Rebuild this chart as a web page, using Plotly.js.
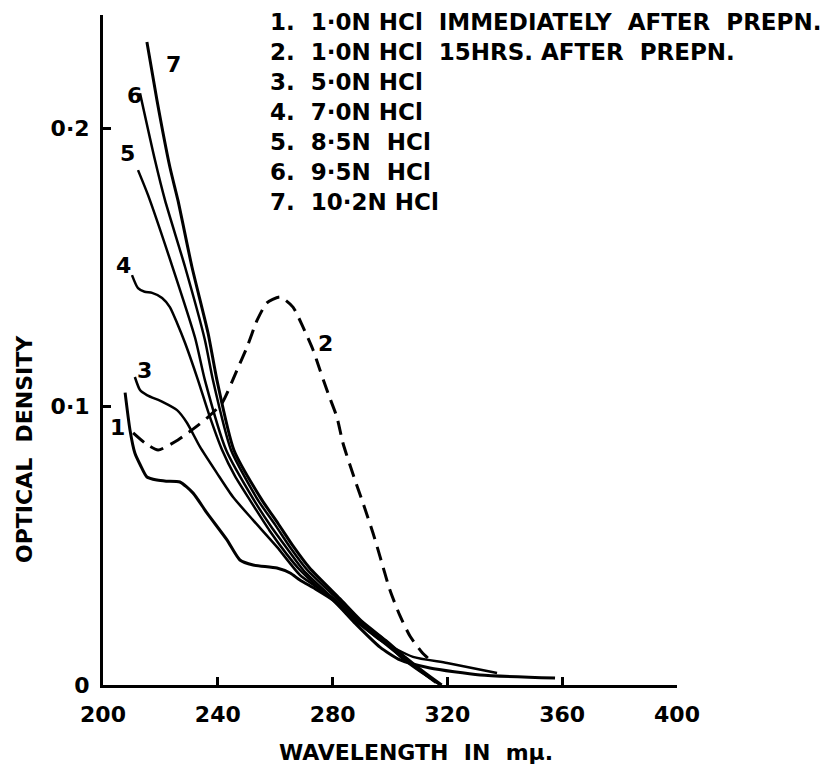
<!DOCTYPE html>
<html><head><meta charset="utf-8">
<script src="https://cdn.plot.ly/plotly-3.0.1.min.js"></script>
<style>html,body{margin:0;padding:0;background:#fff}</style>
</head><body>
<div id="chart" style="width:826px;height:772px"></div>
<script>
// Curve 1: 1.0N HCl immediately after prepn.
const c1x = [207.7, 209.4, 211.1, 213, 215.3, 218.8, 222, 226.8, 231.4, 236.2, 243.2, 247.7, 252.3, 260.6, 265.2, 268.6, 274, 280.1, 288, 296.5, 303.5, 313.9, 331.4, 357.5];
const c1y = [0.105, 0.0916, 0.0833, 0.079, 0.0747, 0.0736, 0.0732, 0.0729, 0.0689, 0.0618, 0.0521, 0.0449, 0.0431, 0.042, 0.0402, 0.0377, 0.0345, 0.0305, 0.022, 0.0136, 0.009, 0.0061, 0.0036, 0.0025];
// Curve 2: 1.0N HCl 15 hrs after prepn. (dashed)
const c2x = [210.5, 214.6, 219.2, 226.1, 231.0, 236.6, 241.5, 246.7, 250.2, 253.7, 257.1, 261.7, 266.2, 269.7, 273.2, 275.6, 278.4, 281.5, 283.6, 287.5, 291.3, 294.1, 296.5, 300.0, 303.5, 307.0, 311.1, 313.9];
const c2y = [0.0905, 0.0869, 0.0844, 0.088, 0.0916, 0.0962, 0.1013, 0.1131, 0.1214, 0.131, 0.1372, 0.1393, 0.1357, 0.1285, 0.1203, 0.1131, 0.1048, 0.0962, 0.0869, 0.0745, 0.0632, 0.0545, 0.0462, 0.034, 0.0248, 0.0175, 0.0118, 0.009];
// Curve 3: 5.0N HCl
const c3x = [211.1, 212.9, 215.3, 220.9, 225.8, 229.3, 233.8, 239.7, 245.3, 252.3, 260.6, 268.6, 274, 280.5, 288, 296.5, 308.0, 319.9, 337.3];
const c3y = [0.1106, 0.1059, 0.1041, 0.1016, 0.0987, 0.0941, 0.0855, 0.0761, 0.0675, 0.0592, 0.0496, 0.0395, 0.0355, 0.031, 0.0235, 0.0162, 0.0101, 0.0079, 0.0043];
// Curve 4: 7.0N HCl
const c4x = [210.1, 212.2, 214.5, 217.1, 220.6, 223.3, 225.8, 228.6, 233.1, 237, 241.5, 246, 251.2, 258, 264, 268.6, 274, 280.1, 288, 296.5, 303.5, 310.5, 316];
const c4y = [0.1472, 0.1425, 0.1412, 0.1408, 0.139, 0.1357, 0.13, 0.1228, 0.1095, 0.097, 0.0844, 0.075, 0.0664, 0.0555, 0.047, 0.0413, 0.036, 0.0305, 0.023, 0.0162, 0.0105, 0.005, 0.0008];
// Curve 5: 8.5N HCl
const c5x = [212.2, 215.7, 224, 232.1, 235.5, 242.9, 252.6, 258.5, 264.5, 270, 280.8, 289, 297.5, 304, 311, 317];
const c5y = [0.1849, 0.1759, 0.1508, 0.1246, 0.1095, 0.0844, 0.0664, 0.057, 0.0485, 0.041, 0.0305, 0.0225, 0.016, 0.0098, 0.0045, 0.0005];
// Curve 6: 9.5N HCl
const c6x = [212.9, 218.1, 221.6, 228.6, 235.5, 238.3, 244.6, 254, 260, 265.5, 271, 281.5, 289.5, 298, 305, 311.5, 317.5];
const c6y = [0.2125, 0.1885, 0.1741, 0.1501, 0.1239, 0.1095, 0.0844, 0.0664, 0.0575, 0.049, 0.0415, 0.031, 0.023, 0.0163, 0.0098, 0.0045, 0.0];
// Curve 7: 10.2N HCl
const c7x = [215.3, 218.8, 223.3, 226.1, 231, 236.6, 239.7, 245.6, 255.4, 261, 266.5, 272, 282.5, 290, 298.5, 305.5, 312, 318];
const c7y = [0.2309, 0.210, 0.186, 0.1741, 0.1501, 0.1264, 0.1095, 0.0844, 0.0664, 0.058, 0.0495, 0.042, 0.031, 0.023, 0.016, 0.0098, 0.0045, 0.0];

const curveLabels = ['1', '2', '3', '4', '5', '6', '7'];
const labelX = [204.9, 277.4, 214.6, 207.0, 208.4, 211.1, 224.4];
const labelY = [0.0926, 0.1228, 0.1131, 0.1508, 0.191, 0.2118, 0.223];

const keyLines = [
  '1.  1·0N HCl  IMMEDIATELY  AFTER  PREPN.',
  '2.  1·0N HCl  15HRS. AFTER  PREPN.',
  '3.  5·0N HCl',
  '4.  7·0N HCl',
  '5.  8·5N  HCl',
  '6.  9·5N  HCl',
  '7.  10·2N HCl'
];

const xTicks = [200, 240, 280, 320, 360, 400];
const xTickText = ['200', '240', '280', '320', '360', '400'];
const yTicks = [0, 0.1, 0.2];
const yTickText = ['0', '0·1', '0·2'];

const FONT = 'DejaVu Sans, Arial, sans-serif';
const W = 826, H = 772, L = 103, R = 149, T = 15, B = 87;
const pw = W - L - R, ph = H - T - B;
const px2paper = (px) => (px - L) / pw;
const py2paper = (py) => (H - B - py) / ph;

const mk = (x, y, name, line) => ({x: x, y: y, name: name, type: 'scatter', mode: 'lines', line: line, hoverinfo: 'skip'});
const ln = (w, dash) => ({color: '#000', width: w, shape: 'spline', smoothing: 0.6, dash: dash || 'solid'});
const traces = [
  mk(c1x, c1y, '1', ln(3)),
  mk(c2x, c2y, '2', ln(3, '14px,8px')),
  mk(c3x, c3y, '3', ln(2.5)),
  mk(c4x, c4y, '4', ln(2.5)),
  mk(c5x, c5y, '5', ln(2.5)),
  mk(c6x, c6y, '6', ln(2.5)),
  mk(c7x, c7y, '7', ln(3))
];

const annotations = [];
curveLabels.forEach((t, i) => annotations.push({
  x: labelX[i], y: labelY[i], xref: 'x', yref: 'y', text: t, showarrow: false,
  font: {family: FONT, size: 22, color: '#000', weight: 'bold'}
}));
const keyY = [22, 52, 82, 112, 142, 172, 202];
keyLines.forEach((t, i) => annotations.push({
  x: px2paper(268), y: py2paper(keyY[i]), xref: 'paper', yref: 'paper', text: t,
  xanchor: 'left', yanchor: 'middle', showarrow: false,
  font: {family: FONT, size: 23, color: '#000', weight: 'bold'}
}));
annotations.push({
  x: px2paper(24), y: py2paper(449), xref: 'paper', yref: 'paper', text: 'OPTICAL  DENSITY',
  textangle: -90, showarrow: false, xanchor: 'center', yanchor: 'middle',
  font: {family: FONT, size: 22, color: '#000', weight: 'bold'}
});
annotations.push({
  x: px2paper(416), y: py2paper(752), xref: 'paper', yref: 'paper', text: 'WAVELENGTH  IN  mμ.',
  showarrow: false, xanchor: 'center', yanchor: 'middle',
  font: {family: FONT, size: 22, color: '#000', weight: 'bold'}
});

const layout = {
  width: W, height: H,
  margin: {l: L, r: R, t: T, b: B, pad: 0},
  paper_bgcolor: '#fff', plot_bgcolor: '#fff',
  showlegend: false,
  xaxis: {
    range: [200, 400], showline: true, linewidth: 3, linecolor: '#000',
    showgrid: false, zeroline: false, ticks: 'inside', ticklen: 8, tickwidth: 3, tickcolor: '#000',
    tickmode: 'array', tickvals: xTicks, ticktext: xTickText,
    tickfont: {family: FONT, size: 22, color: '#000', weight: 'bold'}, ticklabelstandoff: 8
  },
  yaxis: {
    range: [0, 0.2406], showline: true, linewidth: 3, linecolor: '#000',
    showgrid: false, zeroline: false, ticks: 'inside', ticklen: 8, tickwidth: 3, tickcolor: '#000',
    tickmode: 'array', tickvals: yTicks, ticktext: yTickText,
    tickfont: {family: FONT, size: 22, color: '#000', weight: 'bold'}, ticklabelstandoff: 6
  },
  annotations: annotations
};

Plotly.newPlot('chart', traces, layout, {displayModeBar: false, staticPlot: true});
</script>
</body></html>
